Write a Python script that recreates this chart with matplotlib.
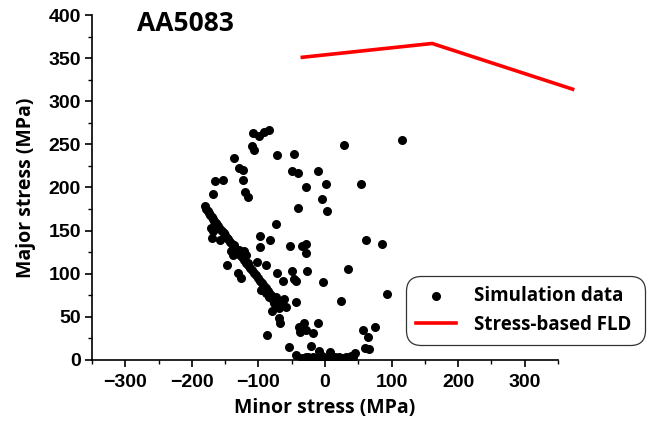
import numpy as np
import matplotlib.pyplot as plt
from matplotlib.ticker import MultipleLocator

# simulation points (minor stress, major stress) in MPa
sim_minor = [
    -107.5, -98.5, -91, -84.5, -109.5, -106.5, -72.5, -46, -137, -129.5,
    -122.5, -164.5, -153.5, -123.5, -119.5, -115.5, -167.5, -50, -41, -28.5,
    -10, 1.5, -4.5, 2.5, -40, 28, 54, 115, -73, -97,
    -97, -82, -52.5, -34.5, -28.5, -28.5, 62, 86, 34, -27.5,
    -50, -47, -43.5, -2.5, 93, 24, -43.5,
    # band
    -180, -178, -176, -174, -172, -170, -168, -166, -164, -162,
    -160, -157, -155, -152, -150, -147, -145, -142, -140, -137,
    -134, -131, -128, -125, -122, -119, -116, -113, -110, -107,
    -104, -101, -98, -95, -92, -89, -86, -83, -80,
    # around the band
    -171, -168.5, -169.5, -157, -147, -141, -137.5, -131, -126, -128.5,
    -121, -118.5, -116, -136, -102, -88.5, -72.5, -62.5,
    -96, -88.5, -83.5, -78.5, -73.5, -68.5, -61, -58.5, -69.5, -79.5,
    -69.5, -67.5, -87.5, -92, -85, -76, -64,
    # bottom cluster
    -53.5, -43.5, -38.5, -31, -37, -28.5, -18.5, -10, -21, -8.5,
    7.5, -28.5, -18.5, -8.5, 1.5, 11.5, 21.5, 31.5, 39, 45.5,
    -35, -25, -15, -5, 5, 15, 25, 35, 42,
    57.5, 64, 75, 60.5, 65.5,
]
sim_major = [
    263.3, 259.4, 264, 266.4, 247.8, 243.1, 238.1, 239.3, 234.2, 222.6,
    219.9, 207.1, 209.1, 208.3, 194.3, 188.9, 192.4, 219.5, 216.8, 200.5,
    219.5, 204, 187, 173.1, 176.5, 248.9, 204, 255.1, 158, 144,
    130.9, 139.4, 131.6, 131.6, 134.7, 123.9, 138.6, 134, 105.7, 103,
    102.6, 94.1, 91, 90.2, 77, 68.1, 67.8,
    # band
    178, 175, 173, 170, 168, 166, 163, 161, 159, 157,
    155, 152, 150, 147, 145, 142, 140, 137, 134, 131,
    128, 125, 122, 119, 116, 113, 110, 107, 104, 101,
    98, 95, 92, 89, 86, 83, 80, 77, 74,
    # around the band
    152.9, 149, 141.3, 139.4, 110.3, 125.8, 122, 100.7, 94.9, 127.8,
    125.8, 122, 112.3, 133.6, 113.4, 110.3, 100.7, 91,
    81.3, 77.4, 73.6, 69.7, 73.6, 67.8, 70.5, 61.9, 60, 57.3,
    48.4, 43.4, 29, 84, 79, 66, 64,
    # bottom cluster
    14.7, 5.8, 38.7, 43.4, 32.9, 34.8, 31.7, 43.4, 16.6, 10.8,
    8.9, 3.9, 3.1, 1.9, 2.7, 1.5, 3.1, 3.9, 4.6, 7.7,
    2.5, 3.5, 2.0, 4.5, 2.2, 3.0, 2.0, 2.8, 3.5,
    34.8, 27.1, 37.9, 13.5, 12.8,
]

# stress-based forming limit curve
fld_minor = [-34, 161, 372]
fld_major = [351, 367, 314]

fig = plt.figure(figsize=(6.51, 4.23), dpi=100)
ax = fig.add_axes([0.1413, 0.149, 0.7158, 0.8155])

ax.scatter(sim_minor, sim_major, s=30, color='black', zorder=3,
           label='Simulation data')
ax.plot(fld_minor, fld_major, color='red', lw=2.6, clip_on=False,
        label='Stress-based FLD')

ax.set_xlim(-350, 350)
ax.set_ylim(0, 400)
ax.xaxis.set_major_locator(MultipleLocator(100))
ax.xaxis.set_minor_locator(MultipleLocator(50))
ax.yaxis.set_major_locator(MultipleLocator(50))
ax.yaxis.set_minor_locator(MultipleLocator(25))
ax.set_xticks([-300, -200, -100, 0, 100, 200, 300])

for side in ['top', 'right']:
    ax.spines[side].set_visible(False)
for side in ['left', 'bottom']:
    ax.spines[side].set_linewidth(1.2)

ax.tick_params(which='major', direction='out', length=5, width=1.2,
               labelsize=14, pad=3)
ax.tick_params(axis='x', which='major', pad=5)
ax.tick_params(which='minor', direction='out', length=3, width=1.0)
for lab in ax.get_xticklabels() + ax.get_yticklabels():
    lab.set_fontfamily('Liberation Sans')
    lab.set_fontweight('bold')

ax.set_xlabel('Minor stress (MPa)', fontsize=14, fontweight='bold',
              family='Open Sans', labelpad=5)
ax.set_ylabel('Major stress (MPa)', fontsize=14, fontweight='bold',
              family='Open Sans', labelpad=9)

ax.text(0.097, 0.975, 'AA5083', transform=ax.transAxes, fontsize=19,
        fontweight='bold', family='Open Sans', va='center', ha='left')

leg = ax.legend(loc='lower left', bbox_to_anchor=(0.6237, 0.1844, 0.367, 0.189),
                bbox_transform=fig.transFigure, mode='expand', frameon=True,
                prop={'family': 'Open Sans', 'weight': 'bold', 'size': 13.5},
                handlelength=2.1, handletextpad=1.0, borderpad=0.55,
                labelspacing=0.45, fancybox=True, borderaxespad=0,
                markerscale=1.0)
leg.get_frame().set_edgecolor('black')
leg.get_frame().set_linewidth(0.9)
leg.get_frame().set_boxstyle('round,pad=0.02,rounding_size=0.8')

fig.savefig('out.png', dpi=100)
